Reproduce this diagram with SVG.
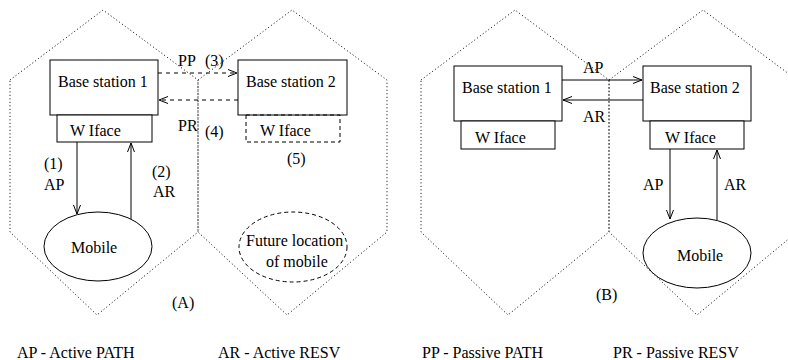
<svg xmlns="http://www.w3.org/2000/svg" width="788" height="360" viewBox="0 0 788 360">
<style>
text{font-family:"Liberation Serif","Times New Roman",serif;font-size:16px;fill:#000}
.hex{fill:none;stroke:#000;stroke-width:1;stroke-dasharray:1,2.5}
.box{fill:#fff;stroke:#000;stroke-width:1}
.dbox{fill:none;stroke:#000;stroke-width:1;stroke-dasharray:4,3}
.ln{fill:none;stroke:#000;stroke-width:1}
.dln{fill:none;stroke:#000;stroke-width:1;stroke-dasharray:4,4}
</style>
<defs>
<marker id="arr" markerUnits="userSpaceOnUse" markerWidth="12" markerHeight="10" viewBox="-10 -5 12 10" refX="0" refY="0" orient="auto">
<path d="M-9,-3.5 L0,0 L-9,3.5" fill="none" stroke="#000" stroke-width="1"/>
</marker>
</defs>
<g id="cells">
<polygon class="hex" points="10,80 103,10 198,80 198,232 97,315 10,232"/>
<polygon class="hex" points="198,80 292,10 387,80 387,232 287,315 198,232"/>
<polygon class="hex" points="421,80 515,10 609,80 609,232 508,315 421,232"/>
<polygon class="hex" points="609,80 703,10 797,80 797,232 697,315 609,232"/>
</g>
<g id="a-bs1">
<rect class="box" x="50" y="60" width="108" height="55"/>
<text x="58" y="87">Base station 1</text>
</g>
<g id="a-wif1">
<rect class="box" x="57" y="115" width="95" height="27"/>
<text x="70" y="136">W Iface</text>
</g>
<g id="a-bs2">
<rect class="box" x="238" y="60" width="109" height="55"/>
<text x="246" y="87">Base station 2</text>
</g>
<g id="a-wif2">
<rect class="dbox" x="246" y="115" width="94" height="27"/>
<text x="260" y="136">W Iface</text>
<text x="287" y="164">(5)</text>
</g>
<g id="a-mobile">
<ellipse class="box" cx="98" cy="246.5" rx="54" ry="34.5"/>
<text x="71" y="253">Mobile</text>
</g>
<g id="a-future">
<ellipse class="dbox" cx="293" cy="247" rx="54" ry="35"/>
<text x="246" y="246">Future location</text>
<text x="266" y="267">of mobile</text>
</g>
<g id="b-bs1">
<rect class="box" x="454" y="66" width="108" height="55"/>
<text x="462" y="93">Base station 1</text>
</g>
<g id="b-wif1">
<rect class="box" x="461" y="121" width="94" height="28"/>
<text x="475" y="143">W Iface</text>
</g>
<g id="b-bs2">
<rect class="box" x="643" y="66" width="108" height="55"/>
<text x="650" y="93">Base station 2</text>
</g>
<g id="b-wif2">
<rect class="box" x="650" y="121" width="94" height="28"/>
<text x="665" y="143">W Iface</text>
</g>
<g id="b-mobile">
<ellipse class="box" cx="697" cy="253" rx="54" ry="35"/>
<text x="677" y="261">Mobile</text>
</g>
<g id="connectors">
<line class="dln" x1="158" y1="73" x2="237" y2="73" marker-end="url(#arr)"/>
<line class="dln" x1="238" y1="100" x2="159" y2="100" marker-end="url(#arr)"/>
<line class="ln" x1="77" y1="142" x2="77" y2="214" marker-end="url(#arr)"/>
<line class="ln" x1="131" y1="219" x2="131" y2="143" marker-end="url(#arr)"/>
<line class="ln" x1="562" y1="80" x2="642" y2="80" marker-end="url(#arr)"/>
<line class="ln" x1="643" y1="100" x2="563" y2="100" marker-end="url(#arr)"/>
<line class="ln" x1="670" y1="149" x2="670" y2="219" marker-end="url(#arr)"/>
<line class="ln" x1="717" y1="220" x2="717" y2="150" marker-end="url(#arr)"/>
</g>
<g id="labels">
<text x="178" y="66">PP</text>
<text x="205" y="66">(3)</text>
<text x="178" y="131">PR</text>
<text x="205" y="137">(4)</text>
<text x="44" y="169">(1)</text>
<text x="44" y="190">AP</text>
<text x="152" y="177">(2)</text>
<text x="153" y="197">AR</text>
<text x="172" y="308">(A)</text>
<text x="583" y="73">AP</text>
<text x="583" y="122">AR</text>
<text x="643" y="190">AP</text>
<text x="724" y="190">AR</text>
<text x="596" y="300">(B)</text>
<text x="17" y="358">AP - Active PATH</text>
<text x="218" y="358">AR - Active RESV</text>
<text x="422" y="358">PP - Passive PATH</text>
<text x="613" y="358">PR - Passive RESV</text>
</g>
</svg>
